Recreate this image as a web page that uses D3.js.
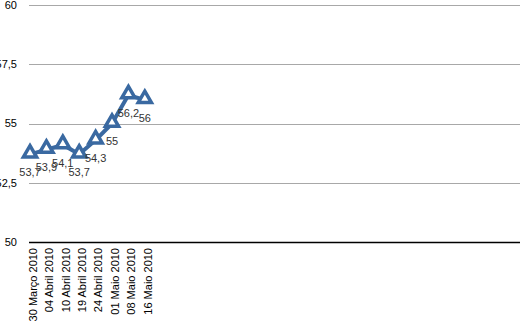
<!DOCTYPE html>
<html>
<head>
<meta charset="utf-8">
<script src="https://cdn.jsdelivr.net/npm/d3@7"></script>
<style>
  body { margin: 0; background: #fff; }
  svg text { font-family: "Liberation Sans", Arial, sans-serif; }
</style>
</head>
<body>
<div id="chart"></div>
<script>
'use strict';
// dados
var datas = ["30 Março 2010", "04 Abril 2010", "10 Abril 2010", "19 Abril 2010",
             "24 Abril 2010", "01 Maio 2010", "08 Maio 2010", "16 Maio 2010"];
var valores = [53.7, 53.9, 54.1, 53.7, 54.3, 55, 56.2, 56];
var ticksY = [50, 52.5, 55, 57.5, 60];

var width = 523, height = 327;
var mLeft = 30, mRight = 520, mTop = 5, mBottom = 242;
var fmt = function(v) { return String(v).replace(".", ","); };

var svg = d3.select("#chart").append("svg")
        .attr("width", width)
        .attr("height", height);

var y = d3.scaleLinear().domain([50, 60]).range([mBottom, mTop]);
var x = d3.scalePoint().domain(datas).range([mLeft, mLeft + 16.4 * (datas.length - 1)]);

// linhas de grade
svg.selectAll("line.grid")
        .data(ticksY)
        .enter().append("line")
        .attr("class", "grid")
        .attr("x1", mLeft - 1)
        .attr("x2", mRight)
        .attr("y1", function(d) { return Math.round(y(d)) + 0.5; })
        .attr("y2", function(d) { return Math.round(y(d)) + 0.5; })
        .attr("stroke", function(d) { return d == 50 ? "#000" : "#a8a8a8"; })
        .attr("stroke-width", function(d) { return d == 50 ? 1.5 : 1.2; });

// eixo Y
svg.selectAll("text.ytick")
        .data(ticksY)
        .enter().append("text")
        .attr("class", "ytick")
        .attr("x", 17)
        .attr("y", function(d) { return y(d); })
        .attr("dy", "0.35em")
        .attr("text-anchor", "end")
        .attr("font-size", "11px")
        .attr("fill", "#000")
        .text(fmt);

// eixo X (rotulos verticais)
svg.selectAll("text.xtick")
        .data(datas)
        .enter().append("text")
        .attr("class", "xtick")
        .attr("transform", function(d) { return "translate(" + (x(d) + 3) + "," + 248 + ") rotate(-90)"; })
        .attr("dy", "0.35em")
        .attr("text-anchor", "end")
        .attr("font-size", "11px")
        .attr("fill", "#000")
        .text(function(d) { return d; });

var pts = datas.map(function(d, i) { return { data: d, valor: valores[i] }; });

// linha
svg.append("path")
        .datum(pts)
        .attr("fill", "none")
        .attr("stroke", "#3a69a1")
        .attr("stroke-width", 4)
        .attr("stroke-linejoin", "round")
        .attr("d", d3.line()
            .x(function(d) { return x(d.data); })
            .y(function(d) { return y(d.valor); }));

// marcadores triangulares
svg.selectAll("path.mark")
        .data(pts)
        .enter().append("path")
        .attr("class", "mark")
        .attr("transform", function(d) { return "translate(" + x(d.data) + "," + (y(d.valor) - 1) + ")"; })
        .attr("d", d3.symbol().type(d3.symbolTriangle).size(75))
        .attr("fill", "#fff")
        .attr("stroke", "#3a69a1")
        .attr("stroke-width", 3.5)
        .attr("stroke-linejoin", "miter");

// rotulos de valores
svg.selectAll("text.valor")
        .data(pts)
        .enter().append("text")
        .attr("class", "valor")
        .attr("x", function(d) { return x(d.data); })
        .attr("y", function(d) { return y(d.valor) + 18; })
        .attr("dy", "0.35em")
        .attr("text-anchor", "middle")
        .attr("font-size", "11px")
        .attr("fill", "#333")
        .text(function(d) { return fmt(d.valor); });
</script>
</body>
</html>
